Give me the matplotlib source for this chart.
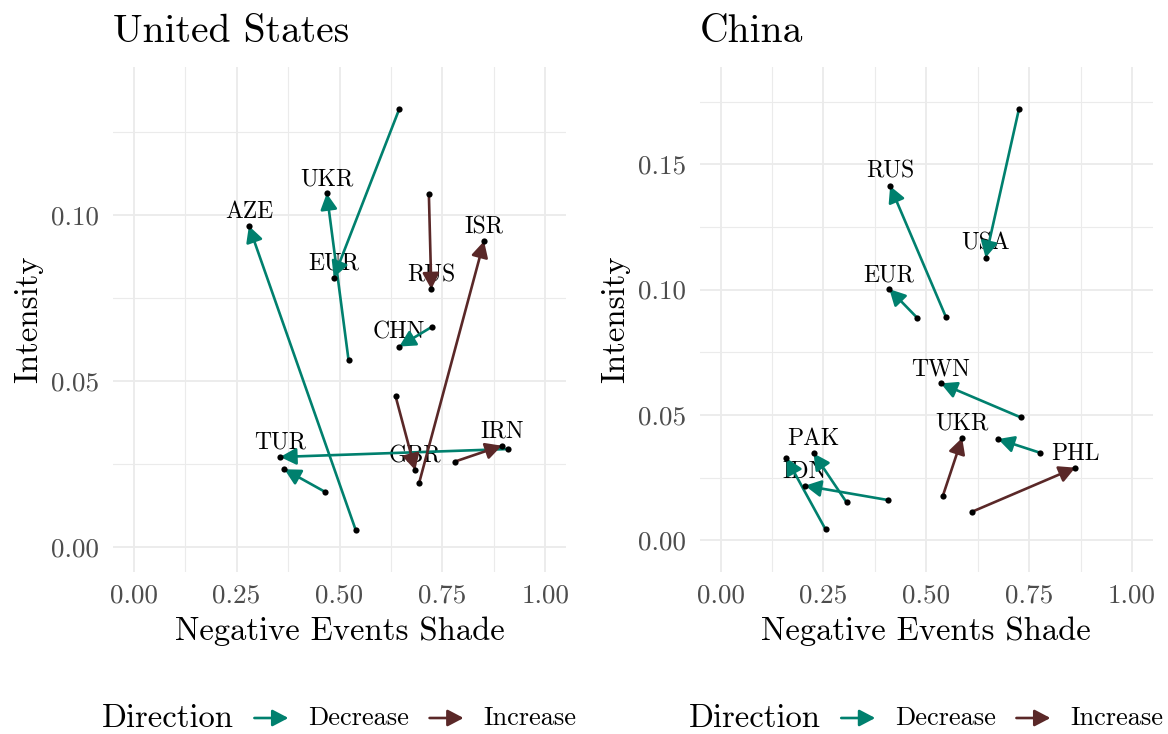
import matplotlib
matplotlib.use("Agg")
import matplotlib.pyplot as plt
from matplotlib.patches import FancyArrowPatch
from matplotlib.offsetbox import AnchoredOffsetbox, HPacker, TextArea, DrawingArea
from matplotlib.ticker import MultipleLocator, FormatStrFormatter

plt.rcParams["font.family"] = "serif"
plt.rcParams["font.serif"] = ["cmr10"]
plt.rcParams["axes.formatter.use_mathtext"] = True

# United States: movement of each partner from previous to current period
us_labels = ["EUR", "UKR", "AZE", "CHN", "TUR", None, "RUS", "ISR", "GBR", "IRN"]
us_x_from = [0.645, 0.522, 0.539, 0.725, 0.910, 0.466, 0.717, 0.693, 0.636, 0.780]
us_y_from = [0.132, 0.0563, 0.0052, 0.0664, 0.0295, 0.0165, 0.1064, 0.0191, 0.0455, 0.0257]
us_x_to = [0.486, 0.469, 0.280, 0.645, 0.356, 0.366, 0.723, 0.851, 0.684, 0.894]
us_y_to = [0.0812, 0.1066, 0.0968, 0.0604, 0.0271, 0.0234, 0.0777, 0.0922, 0.0231, 0.0305]
us_dir = ["Decrease"] * 6 + ["Increase"] * 4

# China
cn_labels = ["USA", "RUS", "EUR", "TWN", None, "IDN", "PAK", None, "UKR", "PHL"]
cn_x_from = [0.725, 0.548, 0.478, 0.730, 0.777, 0.406, 0.306, 0.255, 0.540, 0.611]
cn_y_from = [0.172, 0.0889, 0.0887, 0.0490, 0.0349, 0.0161, 0.0152, 0.0044, 0.0177, 0.0114]
cn_x_to = [0.644, 0.412, 0.410, 0.535, 0.674, 0.205, 0.226, 0.160, 0.587, 0.862]
cn_y_to = [0.1127, 0.1413, 0.1002, 0.0626, 0.0404, 0.0218, 0.0347, 0.0328, 0.0409, 0.0290]
cn_dir = ["Decrease"] * 8 + ["Increase"] * 2

colors = {"Decrease": "#00806E", "Increase": "#5A2828"}
grid_col = "#EBEBEB"
tick_col = "#4D4D4D"


def arrow_props():
    return dict(arrowstyle="-|>,head_length=0.8,head_width=0.42",
                mutation_scale=12)


def draw_panel(ax, title, labels, x0, y0, x1, y1, dirs, ylim):
    ax.set_xlim(-0.05, 1.05)
    ax.set_ylim(*ylim)
    for s in ax.spines.values():
        s.set_visible(False)
    ax.xaxis.set_major_locator(MultipleLocator(0.25))
    ax.xaxis.set_minor_locator(MultipleLocator(0.125))
    ax.yaxis.set_major_locator(MultipleLocator(0.05))
    ax.yaxis.set_minor_locator(MultipleLocator(0.025))
    ax.xaxis.set_major_formatter(FormatStrFormatter("%.2f"))
    ax.yaxis.set_major_formatter(FormatStrFormatter("%.2f"))
    ax.grid(which="major", color=grid_col, lw=1.3)
    ax.grid(which="minor", color=grid_col, lw=0.8)
    ax.set_axisbelow(True)
    ax.tick_params(which="both", length=0, labelsize=19.5, labelcolor=tick_col)
    ax.tick_params(axis="y", pad=10)
    ax.tick_params(axis="x", pad=9)
    ax.set_xlabel("Negative Events Shade", fontsize=23.5, labelpad=6)
    ax.set_ylabel("Intensity", fontsize=23.5, labelpad=6)
    ax.set_title(title, fontsize=28.5, loc="left", pad=18)

    for lab, a, b, c, d, k in zip(labels, x0, y0, x1, y1, dirs):
        if lab is not None:
            ax.annotate(lab, (c, d), xytext=(0, 5.8), textcoords="offset points",
                        ha="center", va="baseline", fontsize=17, zorder=2)
        arr = FancyArrowPatch((a, b), (c, d), color=colors[k], lw=1.9,
                              shrinkA=0, shrinkB=0, zorder=3, **arrow_props())
        ax.add_patch(arr)
    ax.scatter(x0 + x1, y0 + y1, s=20, color="black", zorder=4, linewidths=0)


def add_legend(fig, cx):
    items = [TextArea("Direction", textprops=dict(fontsize=23.5))]
    for k in ["Decrease", "Increase"]:
        da = DrawingArea(24.5, 10, 0, 0)
        da.add_artist(FancyArrowPatch((0, 5), (24.5, 5), color=colors[k], lw=1.9,
                                      shrinkA=0, shrinkB=0, **arrow_props()))
        items.append(da)
        items.append(TextArea(k, textprops=dict(fontsize=19)))
    box = HPacker(children=items, align="center", pad=0, sep=14.5)
    anch = AnchoredOffsetbox(loc="center", child=box, frameon=False,
                             bbox_to_anchor=(cx, 1 - 718 / 734),
                             bbox_transform=fig.transFigure, borderpad=0)
    fig.add_artist(anch)


fig = plt.figure(figsize=(11.68, 7.34), dpi=100)
ax1 = fig.add_axes([113 / 1168, 1 - 571.7 / 734, 453 / 1168, 505 / 734])
ax2 = fig.add_axes([700 / 1168, 1 - 571.7 / 734, 452.7 / 1168, 505 / 734])

draw_panel(ax1, "United States", us_labels, us_x_from, us_y_from, us_x_to, us_y_to,
           us_dir, (-0.0075, 0.1448))
draw_panel(ax2, "China", cn_labels, cn_x_from, cn_y_from, cn_x_to, cn_y_to,
           cn_dir, (-0.0125, 0.1889))

add_legend(fig, (113 + 453 / 2) / 1168)
add_legend(fig, (700 + 452.7 / 2) / 1168)

fig.savefig("out.png", dpi=100, facecolor="white")
